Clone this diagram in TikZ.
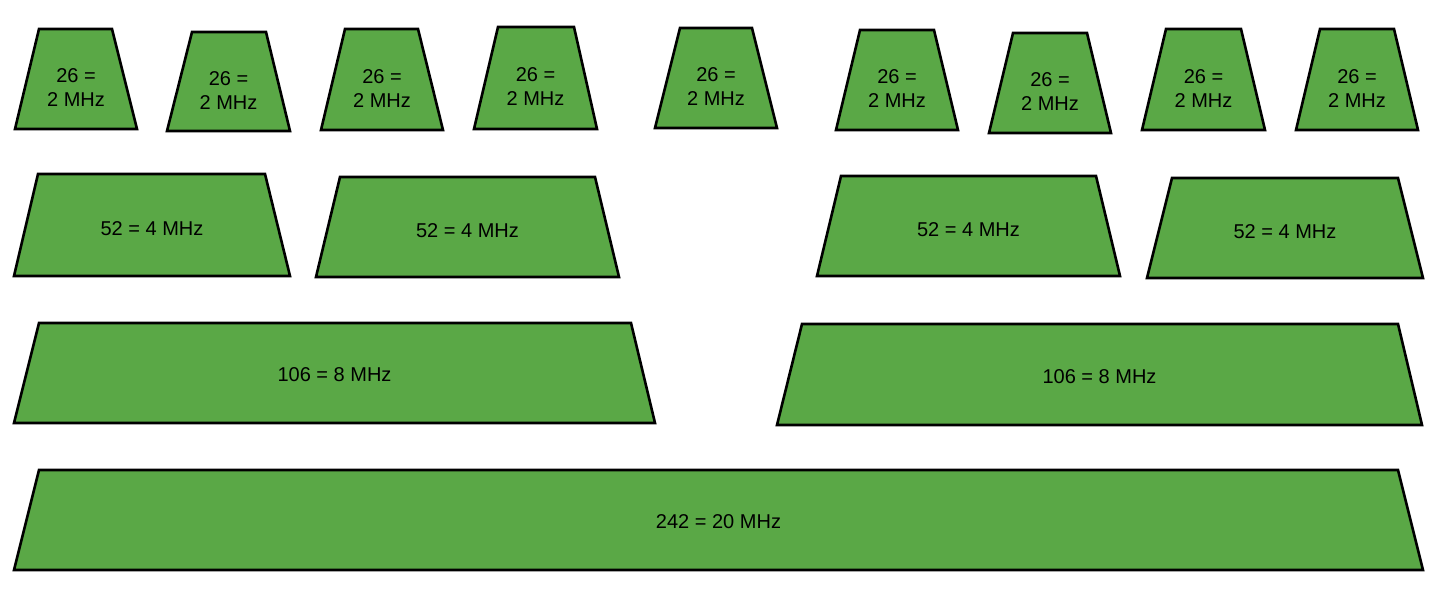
\documentclass[tikz,border=0pt]{standalone}
\usepackage{fontspec}
\setmainfont{Liberation Sans}
\definecolor{boxgreen}{RGB}{90,168,70}
\tikzset{
  trapbox/.style={draw=black, fill=boxgreen, line width=2.6pt, line join=miter},
  lbl/.style={align=center, inner sep=0pt, font=\fontsize{20}{24}\selectfont, text=black}
}
% #1 name, #2 top-left x, #3 top-right x, #4 top y, #5 bottom-left x, #6 bottom-right x, #7 bottom y, #8 label dy, #9 text
\newcommand{\trapz}[9]{%
  \coordinate (#1-tl) at (#2,#4);
  \coordinate (#1-tr) at (#3,#4);
  \coordinate (#1-br) at (#6,#7);
  \coordinate (#1-bl) at (#5,#7);
  \draw[trapbox] (#1-tl) -- (#1-tr) -- (#1-br) -- (#1-bl) -- cycle;
  \node[lbl] (#1) at ({(#5+#6)/2},{(#4+#7)/2+#8}) {#9};
}
\begin{document}
\begin{tikzpicture}[x=1pt,y=-1pt]
\useasboundingbox (0,0) rectangle (1440,599);
% row 1: 26 = 2 MHz
\trapz{a1}{39}{112}{29}{15}{137}{129}{9}{26 =\\2 MHz}
\trapz{a2}{192}{266}{32}{167}{290}{131}{9}{26 =\\2 MHz}
\trapz{a3}{345}{418}{29}{321}{443}{130}{9}{26 =\\2 MHz}
\trapz{a4}{498}{574}{27}{474}{597}{129}{9}{26 =\\2 MHz}
\trapz{a5}{680}{752}{28}{655}{777}{128}{9}{26 =\\2 MHz}
\trapz{a6}{860}{934}{30}{836}{958}{130}{9}{26 =\\2 MHz}
\trapz{a7}{1013}{1087}{33}{989}{1111}{133}{9}{26 =\\2 MHz}
\trapz{a8}{1166}{1241}{29}{1142}{1265}{130}{9}{26 =\\2 MHz}
\trapz{a9}{1320}{1394}{29}{1296}{1418}{130}{9}{26 =\\2 MHz}
% row 2: 52 = 4 MHz
\trapz{b1}{38}{265}{174}{14}{290}{276}{4}{52 = 4 MHz}
\trapz{b2}{340}{595}{177}{316}{619}{277}{4}{52 = 4 MHz}
\trapz{b3}{841}{1096}{176}{817}{1120}{276}{4}{52 = 4 MHz}
\trapz{b4}{1172}{1398}{178}{1147}{1423}{278}{4}{52 = 4 MHz}
% row 3: 106 = 8 MHz
\trapz{c1}{39}{631}{323}{14}{655}{423}{2}{106 = 8 MHz}
\trapz{c2}{802}{1398}{324}{777}{1422}{425}{2}{106 = 8 MHz}
% row 4: 242 = 20 MHz
\trapz{d1}{39}{1398}{470}{14}{1423}{570}{2}{242 = 20 MHz}
\end{tikzpicture}
\end{document}
